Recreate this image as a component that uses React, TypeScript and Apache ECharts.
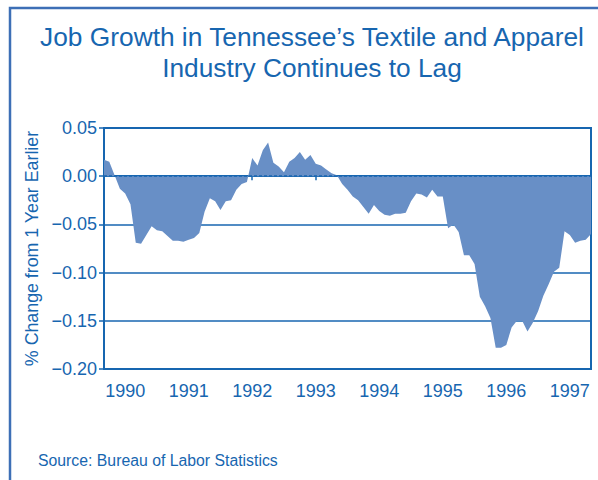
import React, { useEffect, useRef } from "react";
import * as echarts from "echarts";

// % change from 1 year earlier, monthly, Sep 1989 – May 1997
const values1989 = [0.017, 0.015, 0.001, -0.013];
const values1990 = [-0.018, -0.029, -0.069, -0.070, -0.061, -0.052, -0.056, -0.057, -0.062, -0.067, -0.067, -0.068];
const values1991 = [-0.066, -0.064, -0.059, -0.037, -0.023, -0.026, -0.035, -0.026, -0.025, -0.014, -0.008, -0.006];
const values1992 = [0.019, 0.011, 0.027, 0.035, 0.014, 0.010, 0.004, 0.015, 0.019, 0.025, 0.017, 0.022];
const values1993 = [0.013, 0.011, 0.007, 0.003, 0.001, -0.008, -0.014, -0.021, -0.025, -0.032, -0.039, -0.030];
const values1994 = [-0.036, -0.040, -0.041, -0.039, -0.039, -0.038, -0.026, -0.018, -0.019, -0.022, -0.014, -0.021];
const values1995 = [-0.021, -0.054, -0.050, -0.058, -0.082, -0.082, -0.091, -0.125, -0.135, -0.147, -0.178, -0.178];
const values1996 = [-0.175, -0.157, -0.150, -0.150, -0.161, -0.152, -0.140, -0.124, -0.112, -0.099, -0.095, -0.057];
const values1997 = [-0.061, -0.069, -0.067, -0.066, -0.060];

const startYear = 1989;
const startMonth = 9;
const yTicks = [-0.2, -0.15, -0.1, -0.05, 0, 0.05];

const titleText = "Job Growth in Tennessee\u2019s Textile and Apparel\nIndustry Continues to Lag";
const yAxisName = "% Change from 1 Year Earlier";
const sourceText = "Source: Bureau of Labor Statistics";

const allValues = [
  ...values1989, ...values1990, ...values1991, ...values1992, ...values1993,
  ...values1994, ...values1995, ...values1996, ...values1997,
];
const months = allValues.map((_, i) => {
  const m0 = startMonth - 1 + i;
  const y = startYear + Math.floor(m0 / 12);
  const m = (m0 % 12) + 1;
  return `${y}-${m < 10 ? "0" + m : m}`;
});

const BLUE = "#1766b0";
const FILL = "#688fc6";
const FONT = "'Liberation Sans', Arial, Helvetica, sans-serif";

export default function App() {
  const ref = useRef<HTMLDivElement>(null);
  useEffect(() => {
    if (!ref.current) return;
    const chart = echarts.init(ref.current, null, { renderer: "svg" });
    const isJan = (idx: number) => months[idx] && months[idx].endsWith("-01");
    chart.setOption({
      animation: false,
      textStyle: { fontFamily: FONT },
      grid: {
        left: 104,
        right: 7,
        top: 128,
        bottom: 111,
        show: true,
        borderColor: BLUE,
        borderWidth: 2,
        containLabel: false,
      },
      graphic: [
        {
          type: "rect",
          shape: { x: 10, y: 8, width: 800, height: 800 },
          style: { fill: "none", stroke: "#3d6fb6", lineWidth: 2.5 },
          silent: true,
        },
        {
          type: "text",
          x: 312,
          y: 52,
          style: {
            text: titleText,
            fontSize: 26.3,
            fontFamily: FONT,
            fill: BLUE,
            textAlign: "center",
            textVerticalAlign: "middle",
            lineHeight: 31,
          },
        },
        {
          type: "text",
          x: 38,
          y: 460,
          style: {
            text: sourceText,
            fontSize: 15.8,
            fontFamily: FONT,
            fill: BLUE,
            textAlign: "left",
            textVerticalAlign: "middle",
          },
        },
      ],
      xAxis: {
        type: "category",
        data: months,
        boundaryGap: false,
        axisLine: { show: true, lineStyle: { color: BLUE, width: 2 } },
        axisTick: {
          show: true,
          interval: (idx: number) => isJan(idx),
          length: 4,
          lineStyle: { color: BLUE, width: 1.5 },
        },
        axisLabel: {
          interval: (idx: number) => isJan(idx),
          formatter: (v: string) => v.slice(0, 4),
          color: BLUE,
          fontSize: 18,
          fontFamily: FONT,
          margin: 13,
        },
        splitLine: { show: false },
      },
      yAxis: {
        type: "value",
        min: yTicks[0],
        max: yTicks[yTicks.length - 1],
        interval: 0.05,
        name: yAxisName,
        nameLocation: "middle",
        nameRotate: 90,
        nameGap: 62,
        nameTextStyle: { color: BLUE, fontSize: 17.8, fontFamily: FONT },
        axisLine: { show: true, lineStyle: { color: BLUE, width: 2 } },
        axisTick: { show: true, length: 5, lineStyle: { color: BLUE, width: 1.5 } },
        axisLabel: {
          color: BLUE,
          fontSize: 18,
          fontFamily: FONT,
          margin: 7,
          formatter: (v: number) => {
            const s = Math.abs(v).toFixed(2);
            return v < -1e-9 ? "\u2212" + s : s;
          },
        },
        splitLine: {
          show: true,
          lineStyle: {
            color: ["transparent", BLUE, BLUE, BLUE, "transparent", BLUE],
            width: 1.5,
          },
        },
      },
      series: [
        {
          type: "line",
          data: allValues,
          symbol: "none",
          lineStyle: { width: 0, color: FILL },
          itemStyle: { color: FILL },
          areaStyle: { color: FILL, opacity: 1, origin: 0 },
          z: 2,
          markLine: {
            silent: true,
            symbol: "none",
            label: { show: false },
            lineStyle: { color: BLUE, type: [3, 2], width: 1.5 },
            data: [{ yAxis: 0 }],
          },
        },
      ],
    });
    return () => chart.dispose();
  }, []);
  return (
    <div
      ref={ref}
      style={{ position: "absolute", left: 0, top: 0, width: 598, height: 480, background: "#fff" }}
    />
  );
}
